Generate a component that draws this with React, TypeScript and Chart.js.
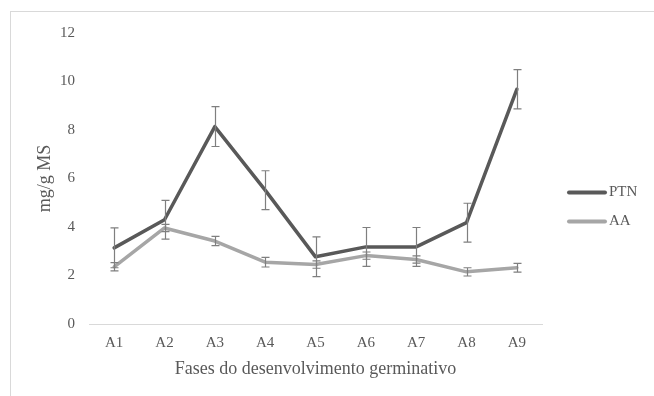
import React, { useEffect, useRef } from 'react';
import { Chart, registerables } from 'chart.js';

Chart.register(...registerables);

const categories = ['A1', 'A2', 'A3', 'A4', 'A5', 'A6', 'A7', 'A8', 'A9'];
const ptnValues = [3.14, 4.3, 8.14, 5.52, 2.77, 3.18, 3.18, 4.18, 9.68];
const ptnErrors = [0.82, 0.8, 0.82, 0.8, 0.82, 0.8, 0.8, 0.8, 0.81];
const aaValues = [2.36, 3.96, 3.42, 2.55, 2.45, 2.82, 2.66, 2.15, 2.32];
const aaErrors = [0.17, 0.15, 0.19, 0.2, 0.15, 0.15, 0.15, 0.17, 0.18];
const seriesLabels = ['PTN', 'AA'];
const yTitle = 'mg/g MS';
const xTitle = 'Fases do desenvolvimento germinativo';

const FONT = "'Liberation Serif', 'Times New Roman', serif";
const TEXT = '#595959';
const errorsByDataset = [ptnErrors, aaErrors];

const errorBarPlugin = {
  id: 'errorBars',
  afterDatasetsDraw(chart: any) {
    const ctx = chart.ctx;
    const yScale = chart.scales.y;
    ctx.save();
    ctx.strokeStyle = '#7f7f7f';
    ctx.lineWidth = 1.2;
    chart.data.datasets.forEach((ds: any, i: number) => {
      const meta = chart.getDatasetMeta(i);
      const errs = errorsByDataset[i];
      meta.data.forEach((pt: any, j: number) => {
        const v = ds.data[j];
        const e = errs[j];
        const x = Math.round(pt.x) + 0.5;
        const yTop = yScale.getPixelForValue(v + e);
        const yBot = yScale.getPixelForValue(v - e);
        ctx.beginPath();
        ctx.moveTo(x, yTop);
        ctx.lineTo(x, yBot);
        ctx.moveTo(x - 4, yTop);
        ctx.lineTo(x + 4, yTop);
        ctx.moveTo(x - 4, yBot);
        ctx.lineTo(x + 4, yBot);
        ctx.stroke();
      });
    });
    ctx.restore();
  },
};

const legendPlugin = {
  id: 'customLegend',
  afterDraw(chart: any) {
    const { ctx, chartArea } = chart;
    const x0 = chartArea.right + 27;
    const len = 36;
    const mid = (chartArea.top + chartArea.bottom) / 2;
    ctx.save();
    chart.data.datasets.forEach((ds: any, i: number) => {
      const yy = mid + 14 + i * 29;
      ctx.strokeStyle = ds.borderColor;
      ctx.lineWidth = 4;
      ctx.lineCap = 'round';
      ctx.beginPath();
      ctx.moveTo(x0, yy);
      ctx.lineTo(x0 + len, yy);
      ctx.stroke();
      ctx.fillStyle = TEXT;
      ctx.font = `15px ${FONT}`;
      ctx.textBaseline = 'middle';
      ctx.textAlign = 'left';
      ctx.fillText(ds.label, x0 + len + 4, yy);
    });
    ctx.restore();
  },
};

export default function App() {
  const ref = useRef<HTMLCanvasElement | null>(null);
  useEffect(() => {
    if (!ref.current) return;
    const chart = new Chart(ref.current, {
      type: 'line',
      data: {
        labels: categories,
        datasets: [
          {
            label: seriesLabels[0],
            data: ptnValues,
            borderColor: '#595959',
            backgroundColor: '#595959',
            borderWidth: 3.5,
            pointRadius: 0,
            tension: 0,
            borderJoinStyle: 'round',
            borderCapStyle: 'round',
          },
          {
            label: seriesLabels[1],
            data: aaValues,
            borderColor: '#a6a6a6',
            backgroundColor: '#a6a6a6',
            borderWidth: 3.5,
            pointRadius: 0,
            tension: 0,
            borderJoinStyle: 'round',
            borderCapStyle: 'round',
          },
        ],
      },
      options: {
        responsive: false,
        animation: false,
        layout: { padding: { left: 0, top: 33, right: 112, bottom: 16 } },
        plugins: { legend: { display: false }, tooltip: { enabled: false } },
        scales: {
          x: {
            offset: true,
            grid: { display: false, drawTicks: false },
            border: { display: true, color: '#d9d9d9', width: 1 },
            ticks: { color: TEXT, font: { family: FONT, size: 15 }, padding: 10 },
            title: {
              display: true,
              text: xTitle,
              color: TEXT,
              font: { family: FONT, size: 18 },
              padding: { top: 0, bottom: 0 },
            },
            afterFit(scale: any) {
              scale.height = 56;
            },
          },
          y: {
            min: 0,
            max: 12,
            grid: { display: false, drawTicks: false },
            border: { display: false },
            ticks: { stepSize: 2, color: TEXT, font: { family: FONT, size: 15 }, padding: 14 },
            title: {
              display: true,
              text: yTitle,
              color: TEXT,
              font: { family: FONT, size: 18 },
              padding: { top: 34, bottom: 0 },
            },
            afterFit(scale: any) {
              scale.width = 89;
            },
          },
        },
      },
      plugins: [errorBarPlugin, legendPlugin],
    });
    return () => chart.destroy();
  }, []);

  return (
    <div
      style={{
        position: 'fixed',
        left: 0,
        top: 0,
        width: 654,
        height: 396,
        overflow: 'hidden',
        background: '#ffffff',
      }}
    >
      <div
        style={{
          position: 'absolute',
          left: 10,
          top: 11,
          width: 700,
          height: 440,
          borderLeft: '1px solid #d9d9d9',
          borderTop: '1px solid #d9d9d9',
        }}
      />
      <canvas ref={ref} width={654} height={396} style={{ position: 'absolute', left: 0, top: 0 }} />
    </div>
  );
}
